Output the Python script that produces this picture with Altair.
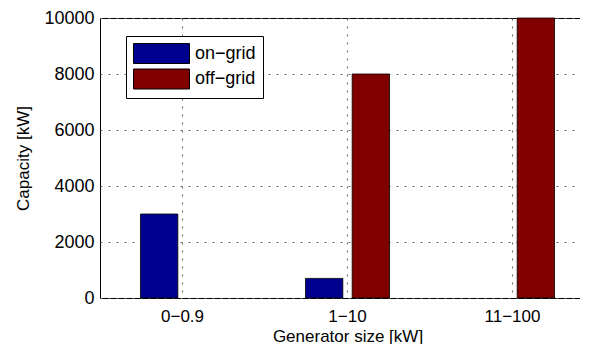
import altair as alt
import pandas as pd

categories = ["0\u22120.9", "1\u221210", "11\u2212100"]
series = ["on\u2212grid", "off\u2212grid"]
on_grid = [3000, 700, 0]
off_grid = [0, 8000, 10000]
colors = ["#00008F", "#800000"]
y_ticks = [0, 2000, 4000, 6000, 8000, 10000]

rows = []
for c, a, b in zip(categories, on_grid, off_grid):
    rows.append({"size": c, "type": series[0], "cap": a})
    rows.append({"size": c, "type": series[1], "cap": b})
df = pd.DataFrame(rows)

font = "Liberation Sans"

chart = alt.Chart(df).mark_bar(stroke="black", strokeWidth=0.8).encode(
    x=alt.X("size:N", sort=categories, title="Generator size [kW]",
            scale=alt.Scale(domain=categories, paddingInner=0, paddingOuter=0),
            axis=alt.Axis(labelAngle=0, ticks=False, domain=False, grid=True, bandPosition=0.5,
                          gridDash=[2, 6], gridColor="#666666", gridWidth=1,
                          labelFontSize=17, titleFontSize=17,
                          labelPadding=10, titlePadding=4)),
    xOffset=alt.XOffset("type:N", sort=series,
                        scale=alt.Scale(domain=series, paddingInner=0.2, paddingOuter=0.867)),
    y=alt.Y("cap:Q", title="Capacity [kW]",
            scale=alt.Scale(domain=[0, 10000], nice=False),
            axis=alt.Axis(values=y_ticks, format="d", ticks=False, domain=False, grid=True,
                          gridDash=[2, 6], gridColor="#666666", gridWidth=1,
                          labelFontSize=18, titleFontSize=17,
                          labelPadding=6, titlePadding=11)),
    color=alt.Color("type:N", sort=series,
                    scale=alt.Scale(domain=series, range=colors),
                    legend=alt.Legend(title=None, orient="none", legendX=26, legendY=18,
                                      symbolType="M-1,-1L4.6,-1L4.6,1L-1,1Z",
                                      symbolSize=400, symbolStrokeColor="black",
                                      symbolStrokeWidth=1, symbolOpacity=1,
                                      labelFont=font, labelFontSize=18, labelColor="black",
                                      strokeColor="black", fillColor="white",
                                      padding=7, rowPadding=0.5, labelOffset=41)),
).transform_filter(
    alt.datum.cap > 0
).properties(
    width=495, height=280,
    padding={"left": 6, "top": 1, "right": -15, "bottom": 0},
).configure_view(
    stroke="black", strokeWidth=1
).configure_axis(
    labelFont=font, labelColor="black",
    titleFont=font, titleColor="black", titleFontWeight="normal",
)

chart.save("out.html", embed_options={"renderer": "svg", "actions": False})
